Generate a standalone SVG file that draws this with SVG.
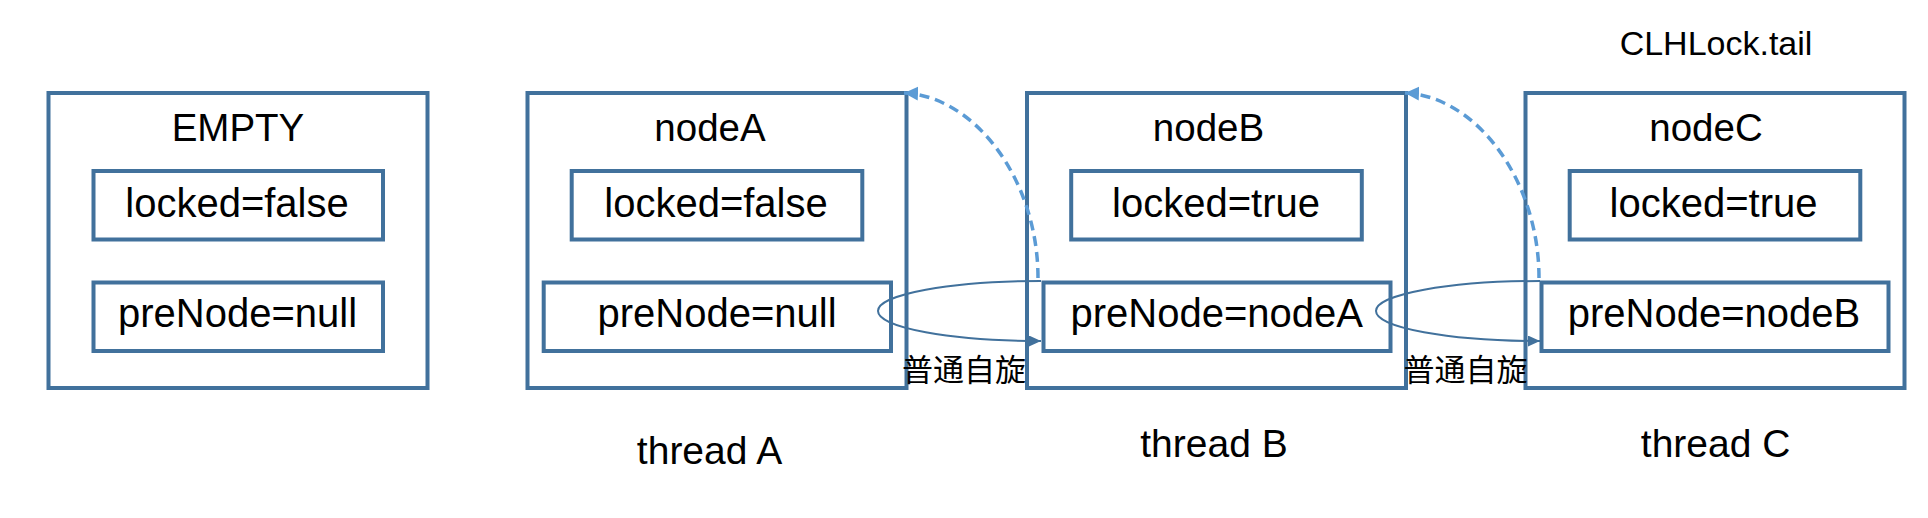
<svg xmlns="http://www.w3.org/2000/svg" width="1928" height="518" viewBox="0 0 1928 518">
<style>
.outer{fill:#fff;stroke:#41719C;stroke-width:4}
.inner{fill:none;stroke:#41719C;stroke-width:4}
.title{font-family:"Liberation Sans",Arial,sans-serif;font-size:38.5px;fill:#000;text-anchor:middle}
.field{font-family:"Liberation Sans",Arial,sans-serif;font-size:40px;fill:#000;text-anchor:middle}
.thread{font-family:"Liberation Sans",Arial,sans-serif;font-size:39px;fill:#000;text-anchor:middle}
.tail{font-family:"Liberation Sans",Arial,sans-serif;font-size:34px;fill:#000;text-anchor:middle}
.spin{font-family:"Noto Sans CJK SC","Noto Sans CJK JP",sans-serif;font-size:31px;fill:#000;text-anchor:middle}
.dash{fill:none;stroke:#5B9BD5;stroke-width:3.5;stroke-dasharray:10 6}
.loop{fill:none;stroke:#41719C;stroke-width:2}
</style>
<defs>
<marker id="dashHead" markerUnits="userSpaceOnUse" markerWidth="16" markerHeight="16" refX="14" refY="7" orient="auto">
<path d="M0,0 L14,7 L0,14 Z" fill="#5B9BD5"/>
</marker>
<marker id="loopHead" markerUnits="userSpaceOnUse" markerWidth="14" markerHeight="12" refX="12" refY="5.5" orient="auto">
<path d="M0,0 L12,5.5 L0,11 Z" fill="#41719C"/>
</marker>
</defs>

<text class="tail" x="1716" y="55">CLHLock.tail</text>

<g id="empty">
<rect class="outer" x="48.5" y="93" width="379" height="295"/>
<text class="title" x="238" y="140.7">EMPTY</text>
<rect class="inner" x="93.5" y="171" width="289.5" height="68.5"/>
<text class="field" x="237" y="217">locked=false</text>
<rect class="inner" x="93.5" y="282.5" width="289.5" height="68.5"/>
<text class="field" x="237.5" y="327">preNode=null</text>
</g>

<g id="nodeA">
<rect class="outer" x="527.5" y="93" width="379" height="295"/>
<text class="title" x="710" y="141">nodeA</text>
<rect class="inner" x="571.7" y="171" width="290.6" height="68.5"/>
<text class="field" x="716" y="217">locked=false</text>
<rect class="inner" x="543.7" y="282.5" width="347.3" height="68.5"/>
<text class="field" x="717" y="327">preNode=null</text>
<text class="thread" x="709.5" y="464">thread A</text>
</g>

<g id="nodeB">
<rect class="outer" x="1027" y="93" width="379" height="295"/>
<text class="title" x="1208.5" y="141">nodeB</text>
<rect class="inner" x="1071.2" y="171" width="290.6" height="68.5"/>
<text class="field" x="1216" y="217">locked=true</text>
<rect class="inner" x="1043.5" y="282.5" width="347" height="68.5"/>
<text class="field" x="1216.7" y="327">preNode=nodeA</text>
<text class="thread" x="1214" y="457">thread B</text>
</g>

<g id="nodeC">
<rect class="outer" x="1525.5" y="93" width="379" height="295"/>
<text class="title" x="1706" y="141">nodeC</text>
<rect class="inner" x="1569.7" y="171" width="290.6" height="68.5"/>
<text class="field" x="1713.5" y="217">locked=true</text>
<rect class="inner" x="1541.5" y="282.5" width="347" height="68.5"/>
<text class="field" x="1714" y="327">preNode=nodeB</text>
<text class="thread" x="1715.6" y="457">thread C</text>
</g>

<g id="connectors">
<path class="dash" d="M1038,278 C1038,180 975,96 904,93" marker-end="url(#dashHead)"/>
<path class="dash" d="M1539,278 C1539,180 1476,96 1405,93" marker-end="url(#dashHead)"/>
<path class="loop" d="M1041,281 A163,30 0 0 0 1041,341" marker-end="url(#loopHead)"/>
<path class="loop" d="M1540,281 A164,30 0 0 0 1540,341" marker-end="url(#loopHead)"/>
<text class="spin" x="964" y="381">普通自旋</text>
<text class="spin" x="1465.5" y="381">普通自旋</text>
</g>
</svg>
